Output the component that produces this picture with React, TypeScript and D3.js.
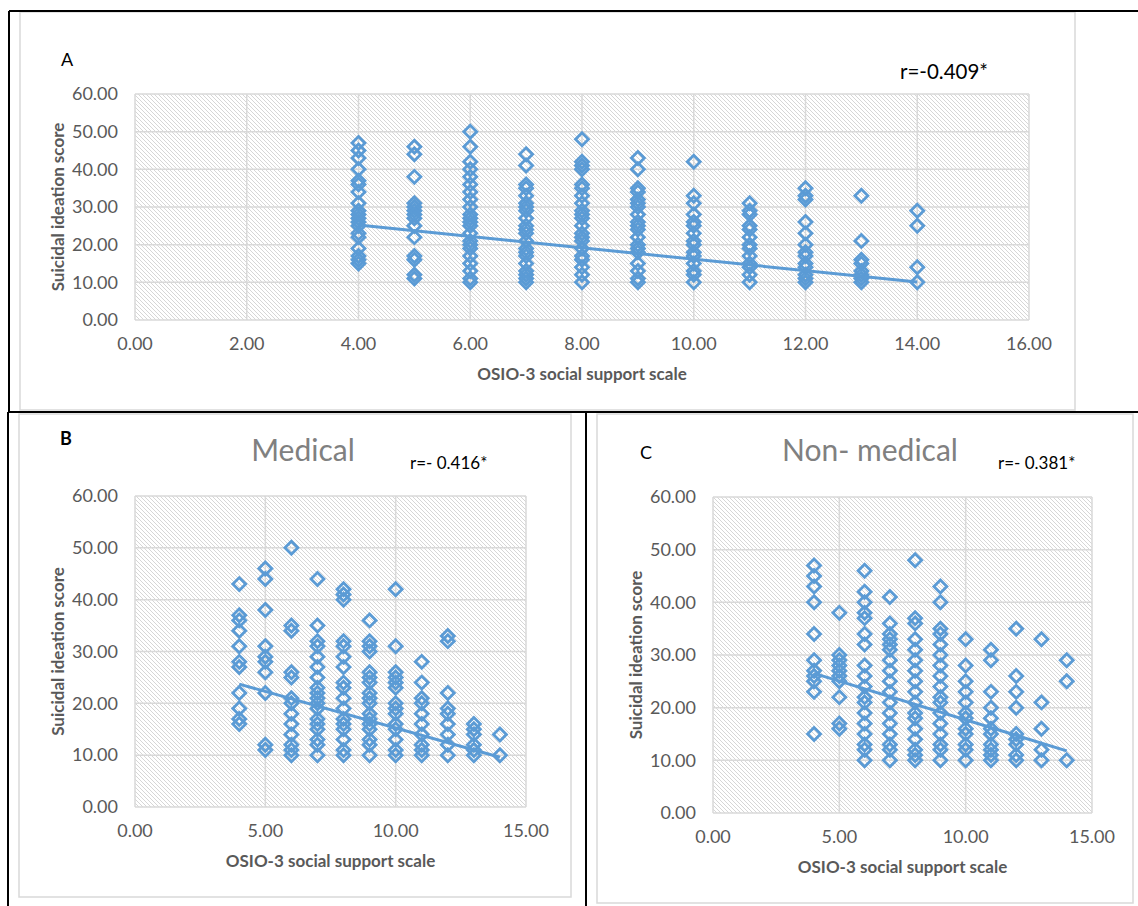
import React from 'react';
import * as d3 from 'd3';

// OSIO-3 social support levels (x) shared by all three panels
const supportLevels = [4, 5, 6, 7, 8, 9, 10, 11, 12, 13, 14];

// suicidal ideation scores per support level
const scoresAll = [
  [47, 45, 43, 40, 37, 36, 34, 31, 29, 28, 27, 26, 25, 23, 22, 19, 17, 16, 15],
  [46, 44, 38, 31, 30, 29, 28, 27, 25, 22, 17, 16, 12, 11],
  [50, 46, 42, 40, 38, 36, 34, 32, 30, 28, 27, 26, 25, 23, 21, 20, 19, 17, 15, 13, 11, 10],
  [44, 41, 36, 35, 33, 31, 30, 29, 27, 25, 24, 23, 21, 19, 18, 17, 15, 13, 12, 11, 10],
  [48, 42, 41, 40, 36, 35, 33, 31, 29, 28, 27, 25, 23, 22, 21, 19, 17, 16, 14, 12, 10],
  [43, 40, 35, 34, 32, 31, 30, 28, 26, 25, 24, 22, 20, 19, 18, 15, 13, 11, 10],
  [42, 33, 31, 28, 26, 25, 23, 21, 20, 18, 17, 15, 13, 12, 10],
  [31, 29, 28, 25, 24, 22, 20, 19, 17, 15, 14, 12, 10],
  [35, 33, 32, 26, 23, 20, 18, 17, 15, 14, 12, 11, 10],
  [33, 21, 16, 15, 13, 12, 11, 10],
  [29, 25, 14, 10],
];

const scoresMedical = [
  [43, 37, 36, 34, 31, 28, 27, 22, 19, 17, 16],
  [46, 44, 38, 31, 29, 28, 26, 22, 12, 11],
  [50, 35, 34, 26, 25, 21, 20, 18, 16, 14, 12, 11, 10],
  [44, 35, 32, 31, 29, 27, 25, 23, 22, 21, 20, 19, 17, 16, 15, 13, 12, 10],
  [42, 41, 40, 32, 31, 29, 27, 24, 23, 21, 19, 17, 16, 15, 13, 11, 10],
  [36, 32, 31, 30, 26, 25, 24, 22, 21, 20, 18, 17, 16, 15, 13, 12, 10],
  [42, 31, 26, 25, 24, 23, 20, 19, 18, 16, 15, 13, 11, 10],
  [28, 24, 21, 20, 18, 16, 14, 12, 11, 10],
  [33, 32, 22, 19, 18, 16, 14, 12, 10],
  [16, 15, 14, 12, 11, 10],
  [14, 10],
];

const scoresNonMedical = [
  [47, 45, 43, 40, 34, 29, 27, 26, 25, 23, 15],
  [38, 30, 29, 28, 27, 26, 25, 22, 17, 16],
  [46, 42, 40, 38, 37, 34, 32, 28, 26, 24, 22, 21, 19, 17, 15, 13, 12, 10],
  [41, 36, 34, 33, 32, 31, 29, 27, 25, 23, 21, 19, 17, 15, 13, 12, 10],
  [48, 37, 36, 33, 31, 29, 27, 25, 23, 21, 19, 18, 16, 14, 12, 11, 10],
  [43, 40, 35, 34, 32, 30, 28, 26, 24, 22, 21, 19, 17, 15, 13, 12, 10],
  [33, 28, 25, 23, 21, 19, 18, 16, 15, 13, 12, 10],
  [31, 29, 23, 20, 18, 16, 15, 13, 12, 11, 10],
  [35, 26, 23, 20, 15, 14, 13, 11, 10],
  [33, 21, 16, 12, 10],
  [29, 25, 10],
];

// linear trend line, value at x=4 and x=14
const trendAll = [25.2, 10.1];
const trendMedical = [23.7, 9.6];
const trendNonMedical = [26.5, 11.8];

const yTicks = [0, 10, 20, 30, 40, 50, 60];
const xTicksAll = [0, 2, 4, 6, 8, 10, 12, 14, 16];
const xTicksGroup = [0, 5, 10, 15];

const BLUE = '#5b9bd5';
const GRID = '#d9d9d9';
const LABEL = '#595959';
const FONT = 'Lato, "Open Sans", sans-serif';
const fmt = d3.format('.2f');
const diamond = d3.symbol().type(d3.symbolSquare).size(84)();

function ScatterPanel({ left, top, width, height, xTicks, columns, trend }) {
  const x = d3.scaleLinear().domain([xTicks[0], xTicks[xTicks.length - 1]]).range([left, left + width]);
  const y = d3.scaleLinear().domain([0, 60]).range([top + height, top]);
  const line = d3.line<number>()
    .x((d, i) => x(i === 0 ? supportLevels[0] : supportLevels[supportLevels.length - 1]))
    .y(d => y(d));

  return (
    <g>
      <rect x={left} y={top} width={width} height={height} fill="url(#hatch)" />
      {yTicks.map(t => (
        <line key={'gy' + t} x1={left} x2={left + width} y1={y(t)} y2={y(t)} stroke={GRID} strokeWidth={1.5} />
      ))}
      {xTicks.map(t => (
        <line key={'gx' + t} x1={x(t)} x2={x(t)} y1={top} y2={top + height} stroke={GRID} strokeWidth={1.5} />
      ))}
      {yTicks.map(t => (
        <text key={'ly' + t} x={left - 17} y={y(t)} dy="0.35em" textAnchor="end" fontSize={18} fill={LABEL}>{fmt(t)}</text>
      ))}
      {xTicks.map(t => (
        <text key={'lx' + t} x={x(t)} y={top + height + 24} dy="0.35em" textAnchor="middle" fontSize={18} fill={LABEL}>{fmt(t)}</text>
      ))}
      {columns.map((col, i) =>
        col.map((v, j) => (
          <path key={i + '-' + j} d={diamond}
            transform={`translate(${x(supportLevels[i])},${y(v)}) rotate(45)`}
            fill="none" stroke={BLUE} strokeWidth={2.8} />
        ))
      )}
      <path d={line(trend) || ''} fill="none" stroke={BLUE} strokeWidth={3} />
      <text x={left + width / 2} y={top + height + 54} dy="0.35em" textAnchor="middle" fontSize={17} fontWeight="bold" fill={LABEL}>
        OSIO-3 social support scale
      </text>
      <text transform={`translate(${left - 77},${top + height / 2}) rotate(-90)`} dy="0.35em" textAnchor="middle" fontSize={17} fontWeight="bold" fill={LABEL}>
        Suicidal ideation score
      </text>
    </g>
  );
}

export default function App() {
  return (
    <div style={{ position: 'absolute', left: 0, top: 0 }}>
      <svg width={1138} height={906} style={{ display: 'block', fontFamily: FONT }}>
        <defs>
          <pattern id="hatch" patternUnits="userSpaceOnUse" width={4} height={4}>
            <rect width={4} height={4} fill="#ffffff" />
            <path d="M-1,-1 L5,5 M-1,3 L1,5 M3,-1 L5,1" stroke="#d6d6d6" strokeWidth={1} />
          </pattern>
        </defs>
        <rect width={1138} height={906} fill="#ffffff" />

        {/* chart areas */}
        <rect x={20} y={12} width={1055} height={398} fill="none" stroke={GRID} strokeWidth={1.5} />
        <rect x={19} y={414} width={552} height={483} fill="none" stroke={GRID} strokeWidth={1.5} />
        <rect x={597} y={414} width={536} height={489} fill="none" stroke={GRID} strokeWidth={1.5} />

        {/* figure frame */}
        <line x1={9} x2={1138} y1={11} y2={11} stroke="#000" strokeWidth={2} />
        <line x1={9} x2={9} y1={11} y2={412} stroke="#000" strokeWidth={2} />
        <line x1={8} x2={1138} y1={412} y2={412} stroke="#000" strokeWidth={2} />
        <line x1={8} x2={8} y1={412} y2={906} stroke="#000" strokeWidth={2} />
        <line x1={586} x2={586} y1={412} y2={906} stroke="#000" strokeWidth={2} />

        <ScatterPanel left={135} top={94} width={894} height={226} xTicks={xTicksAll} columns={scoresAll} trend={trendAll} />
        <ScatterPanel left={135} top={496} width={391} height={311} xTicks={xTicksGroup} columns={scoresMedical} trend={trendMedical} />
        <ScatterPanel left={713} top={497} width={379} height={316} xTicks={xTicksGroup} columns={scoresNonMedical} trend={trendNonMedical} />

        <text x={61} y={66} fontSize={18} fill="#000">A</text>
        <text x={900} y={79} fontSize={20.5} fill="#000">r=-0.409*</text>

        <text x={60} y={445} fontSize={18} fontWeight="bold" fill="#000">B</text>
        <text x={303} y={461} fontSize={30} textAnchor="middle" fill="#808080">Medical</text>
        <text x={410} y={469} fontSize={17} fill="#000">r=- 0.416*</text>

        <text x={640} y={459} fontSize={18} fill="#000">C</text>
        <text x={870} y={461} fontSize={30} textAnchor="middle" fill="#808080">Non- medical</text>
        <text x={998} y={469} fontSize={17} fill="#000">r=- 0.381*</text>
      </svg>
    </div>
  );
}
